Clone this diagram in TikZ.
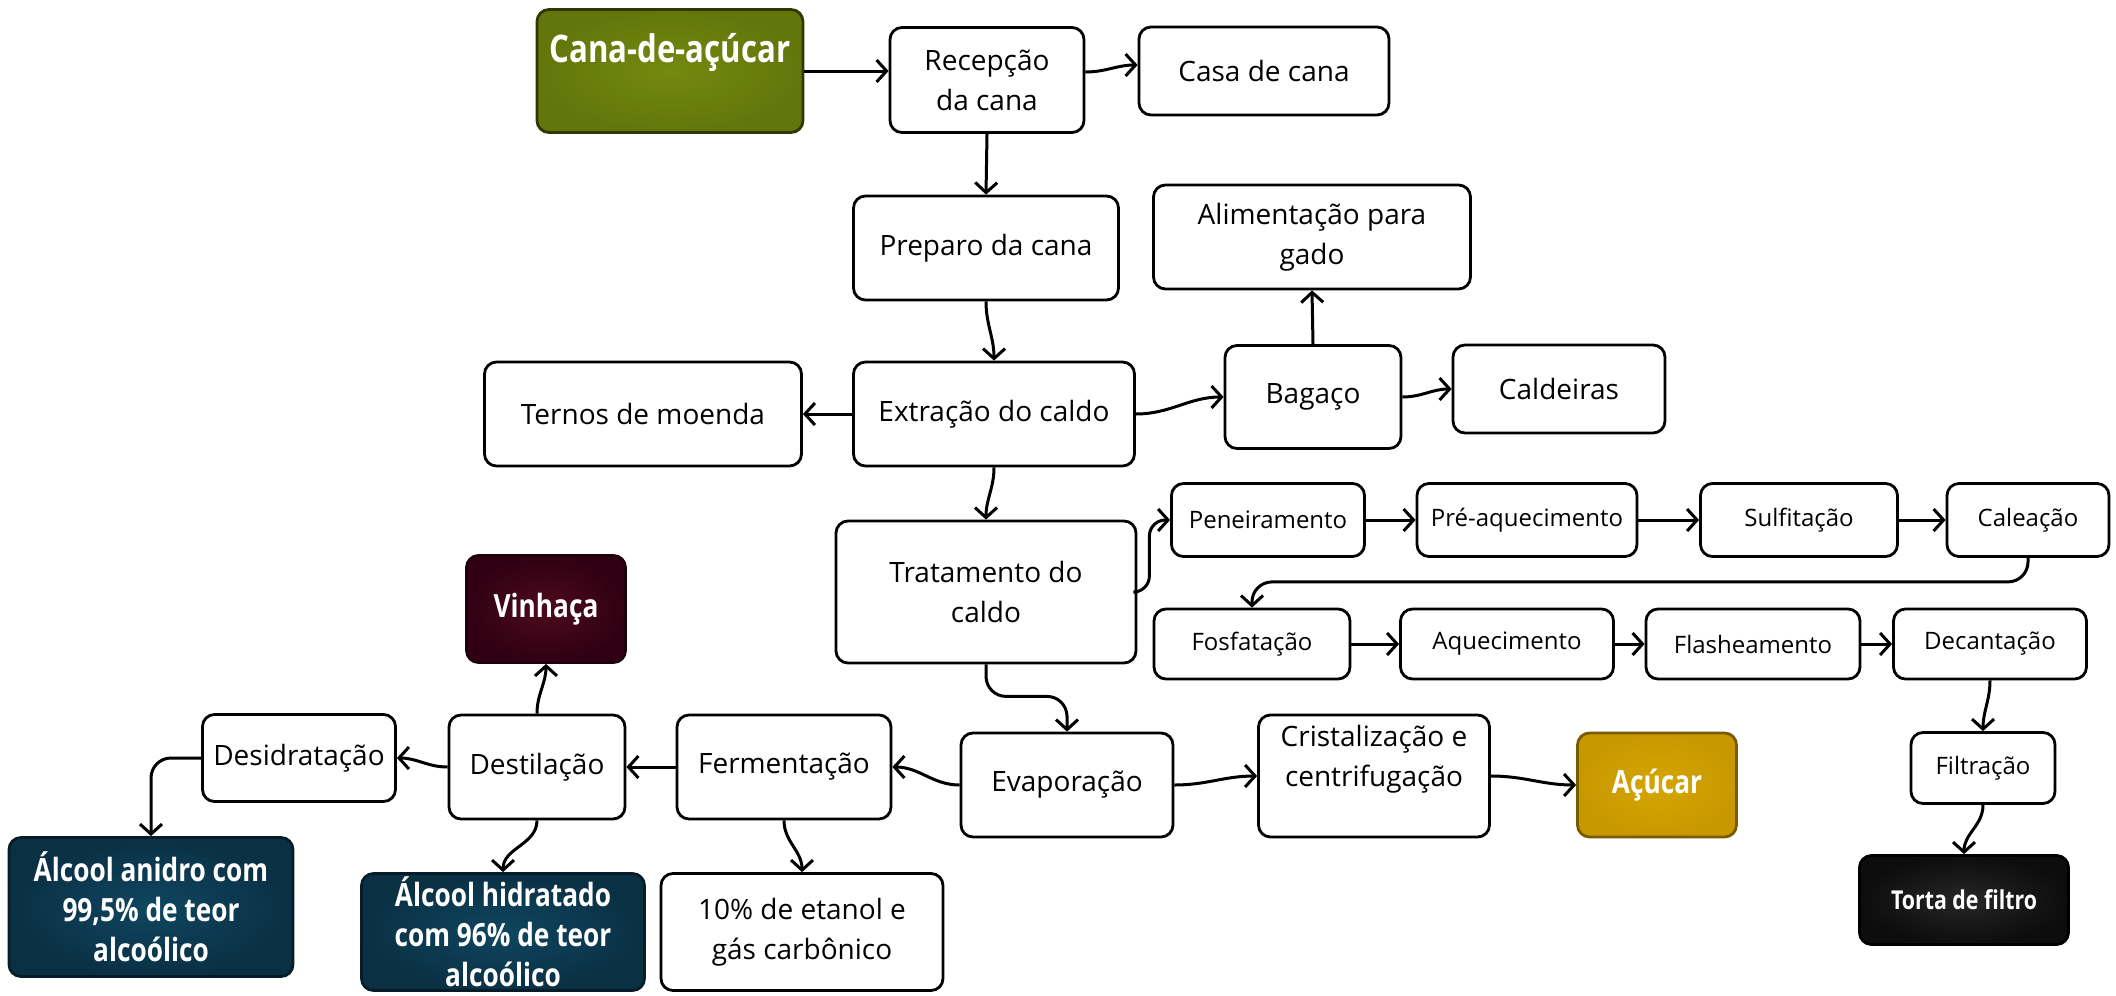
\documentclass[tikz,border=0pt]{standalone}
\usepackage{fontspec}
\setmainfont{Open Sans}
\newfontfamily\headfont{Open Sans}[FakeStretch=0.82]
\usetikzlibrary{arrows.meta,calc}

\definecolor{canain}{HTML}{74890F}
\definecolor{canaout}{HTML}{63760B}
\definecolor{canaline}{HTML}{2E3800}
\definecolor{vinhin}{HTML}{4E0A1E}
\definecolor{vinhout}{HTML}{300012}
\definecolor{alcin}{HTML}{0F4660}
\definecolor{alcout}{HTML}{0A3044}
\definecolor{acuc}{HTML}{D3A000}
\definecolor{acucline}{HTML}{7A5A00}
\definecolor{tortain}{HTML}{262626}

\tikzset{
    sz/.style 2 args={minimum width=#1*0.5pt, minimum height=#2*0.5pt},
    box/.style={draw, line width=1.4pt, rounded corners=6pt, fill=white, align=center, inner sep=0pt, font=\fontsize{14}{20}\selectfont},
    smallbox/.style={box, font=\fontsize{12}{16}\selectfont},
    darkbox/.style={box, text=white, font=\headfont\bfseries\fontsize{16}{20}\selectfont},
    flow/.style={-{Straight Barb[length=5pt,width=11pt]}, line width=1.5pt},
}

\begin{document}
\begin{tikzpicture}[x=0.5pt, y=-0.5pt]
    \useasboundingbox[fill=white] (0,0) rectangle (2116,996);

    % cana e moagem
    \node[darkbox, sz={266}{123}, draw=canaline, inner color=canain, outer color=canaout] (cana) at (670,71) {};
    \node[text=white, font=\headfont\bfseries\fontsize{19}{22}\selectfont] (cana_txt) at (670,53) {Cana-de-açúcar};
    \node[box, sz={194}{105}] (rec) at (987,80) {Recepção\\da cana};
    \node[box, sz={250}{88}] (casa) at (1264,71) {Casa de cana};
    \node[box, sz={265}{104}] (prep) at (986,248) {Preparo da cana};
    \node[box, sz={317}{104}] (alim) at (1312,237) {Alimentação para\\gado};
    \node[box, sz={317}{104}] (ternos) at (643,414) {Ternos de moenda};
    \node[box, sz={281}{104}] (extr) at (994,414) {Extração do caldo};
    \node[box, sz={176}{103}] (bag) at (1313,397) {Bagaço};
    \node[box, sz={212}{88}] (cald) at (1559,389) {Caldeiras};
    \node[box, sz={300}{142}] (trat) at (986,592) {Tratamento do\\caldo};

    % tratamento do caldo
    \node[smallbox, sz={193}{73}] (pen) at (1268,520) {Peneiramento};
    \node[smallbox, sz={220}{73}] (preaq) at (1527,520) {Pré-aquecimento};
    \node[smallbox, sz={197}{73}] (sulf) at (1799,520) {Sulfitação};
    \node[smallbox, sz={162}{73}] (cal) at (2028,520) {Caleação};
    \node[smallbox, sz={196}{70}] (fosf) at (1252,644) {Fosfatação};
    \node[smallbox, sz={213}{70}] (aquec) at (1507,644) {Aquecimento};
    \node[smallbox, sz={214}{70}] (flash) at (1753,644) {Flasheamento};
    \node[smallbox, sz={193}{70}] (decant) at (1990,644) {Decantação};
    \node[smallbox, sz={144}{71}] (filt) at (1983,768) {Filtração};
    \node[darkbox, sz={209}{89}, draw=black, inner color=tortain, outer color=black!95, font=\headfont\bfseries\fontsize{13}{16}\selectfont] (torta) at (1964,900) {Torta de filtro};

    % acucar
    \node[box, sz={212}{104}] (evap) at (1067,785) {Evaporação};
    \node[box, sz={231}{122}] (cris) at (1374,776) {};
    \node[align=center, font=\fontsize{14}{20}\selectfont] (cris_txt) at (1374,759) {Cristalização e\\centrifugação};
    \node[darkbox, sz={159}{104}, draw=acucline, inner color=acuc!95!yellow, outer color=acuc!95!black] (acucar) at (1657,785) {Açúcar};

    % alcool
    \node[box, sz={214}{104}] (ferm) at (784,767) {Fermentação};
    \node[box, sz={282}{117}] (etanol) at (802,932) {10\% de etanol e\\gás carbônico};
    \node[box, sz={176}{104}] (dest) at (537,767) {Destilação};
    \node[darkbox, sz={159}{107}, draw=vinhout!60!black, inner color=vinhin, outer color=vinhout] (vinh) at (546,609) {Vinhaça};
    \node[box, sz={193}{87}] (desid) at (299,758) {Desidratação};
    \node[darkbox, sz={284}{139}, draw=alcout!60!black, inner color=alcin, outer color=alcout] (anidro) at (151,907) {Álcool anidro com\\99,5\% de teor\\alcoólico};
    \node[darkbox, sz={283}{117}, draw=alcout!60!black, inner color=alcin, outer color=alcout] (hidrat) at (503,932) {Álcool hidratado\\com 96\% de teor\\alcoólico};

    \draw[flow] (cana.east) -- (cana.east -| rec.west);
    \draw[flow] ([yshift=4pt]rec.east) to[out=0,in=180] ([yshift=3pt]casa.west);
    \draw[flow] (rec.south) -- (prep.north);
    \draw[flow] (prep.south) to[out=-90,in=90] (extr.north);
    \draw[flow] (extr.west) -- (ternos.east);
    \draw[flow] (extr.east) to[out=0,in=180] (bag.west);
    \draw[flow] (bag.north) -- (alim.south);
    \draw[flow] (bag.east) to[out=0,in=180] (cald.west);
    \draw[flow] (extr.south) to[out=-90,in=90] (trat.north);
    \draw[flow, rounded corners=8pt] (trat.east) -- ++(12,0) |- (pen.west);
    \foreach \a/\b in {pen/preaq, preaq/sulf, sulf/cal, fosf/aquec, aquec/flash, flash/decant} {
        \draw[flow] (\a.east) -- (\b.west);
    }
    \draw[flow, rounded corners=10pt] (cal.south) -- ++(0,24) -| (fosf.north);
    \draw[flow] (decant.south) to[out=-90,in=90] (filt.north);
    \draw[flow] (filt.south) to[out=-90,in=90] (torta.north);
    \draw[flow, rounded corners=10pt] (trat.south) -- ++(0,32) -| (evap.north);
    \draw[flow] (evap.east) to[out=0,in=180] (cris.west);
    \draw[flow] (cris.east) to[out=0,in=180] (acucar.west);
    \draw[flow] (evap.west) to[out=180,in=0] (ferm.east);
    \draw[flow] (ferm.west) -- (dest.east);
    \draw[flow] (ferm.south) to[out=-90,in=90] (etanol.north);
    \draw[flow] (dest.north) to[out=90,in=-90] (vinh.south);
    \draw[flow] (dest.west) to[out=180,in=0] (desid.east);
    \draw[flow, rounded corners=10pt] (desid.west) -| (anidro.north);
    \draw[flow] (dest.south) to[out=-90,in=90] (hidrat.north);

\end{tikzpicture}
\end{document}
